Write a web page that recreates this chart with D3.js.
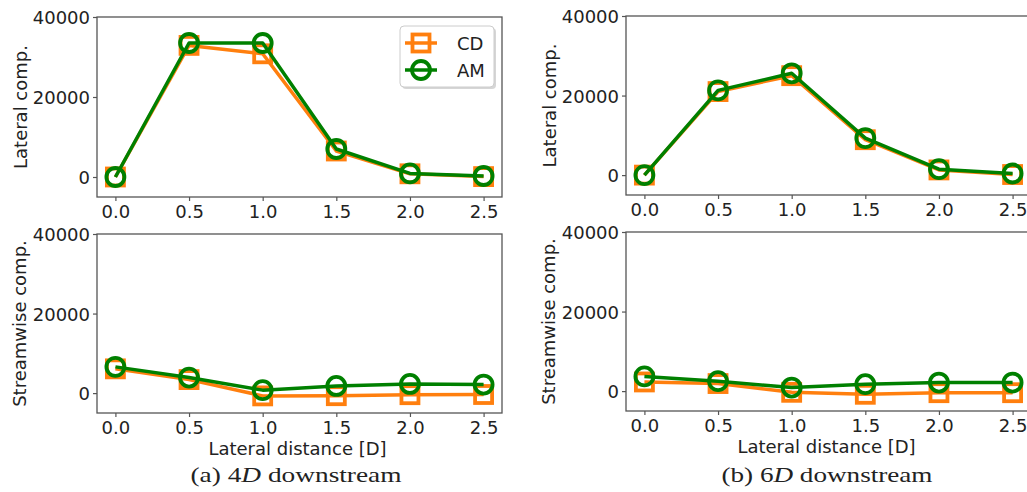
<!DOCTYPE html>
<html>
<head>
<meta charset="utf-8">
<script src="https://cdn.jsdelivr.net/npm/d3@7"></script>
<style>
  body { margin: 0; background: #fff; }
  svg { display: block; }
  .tick text { font-family: "DejaVu Sans", sans-serif; fill: #222; }
</style>
</head>
<body>
<div id="chart"></div>
<script>
// Figure size
const width = 1027;
const height = 492;

// Data (lateral distance in D)
const xValues = [0.0, 0.5, 1.0, 1.5, 2.0, 2.5];
const xTicks = [0.0, 0.5, 1.0, 1.5, 2.0, 2.5];
const yTicks = [0, 20000, 40000];
const seriesNames = ["CD", "AM"];

// 4D downstream
const cdLateral4D = [0, 32900, 30800, 6500, 800, 100];
const amLateral4D = [0, 33500, 33500, 7000, 900, 250];
const cdStream4D = [6100, 3400, -700, -650, -400, -350];
const amStream4D = [6600, 3900, 750, 1800, 2300, 2150];

// 6D downstream
const cdLateral6D = [0, 21000, 25000, 8900, 1300, 150];
const amLateral6D = [0, 21300, 25600, 9300, 1500, 400];
const cdStream6D = [2300, 1900, -300, -800, -400, -400];
const amStream6D = [3700, 2500, 900, 1750, 2150, 2150];

// caption pieces: before, italic part, after
const captions = ["(a) 4", "D", " downstream", "(b) 6", "D", " downstream"];

const colors = {CD: "#ff7f0e", AM: "#008000"};

// panel boxes (pixels)
const panels = [
  {left: 97, top: 17, w: 405, h: 180, cd: cdLateral4D, am: amLateral4D, ylabel: "Lateral comp.", labX: 20, legend: true},
  {left: 626, top: 16, w: 405, h: 179, cd: cdLateral6D, am: amLateral6D, ylabel: "Lateral comp.", labX: 549},
  {left: 97, top: 234, w: 405, h: 179, cd: cdStream4D, am: amStream4D, ylabel: "Streamwise comp.", labX: 19, xlabel: true},
  {left: 626, top: 232, w: 405, h: 179, cd: cdStream6D, am: amStream6D, ylabel: "Streamwise comp.", labX: 548, xlabel: true}
];

const svg = d3.select("#chart")
  .append("svg")
  .attr("width", width)
  .attr("height", height);

const frameColor = "#555";

function drawSeries(g, x, y, vals, name) {
  const line = d3.line().x((d, i) => x(xValues[i])).y(d => y(d));
  g.append("path")
    .datum(vals)
    .attr("d", line)
    .attr("fill", "none")
    .attr("stroke", colors[name])
    .attr("stroke-width", 3.5)
    .attr("stroke-linejoin", "round");
  if (name === "CD") {
    g.selectAll(".sq")
      .data(vals)
      .enter()
      .append("rect")
      .attr("x", (d, i) => x(xValues[i]) - 8.5)
      .attr("y", d => y(d) - 8.5)
      .attr("width", 17)
      .attr("height", 17)
      .attr("fill", "none")
      .attr("stroke", colors.CD)
      .attr("stroke-width", 3.8);
  } else {
    g.selectAll(".ci")
      .data(vals)
      .enter()
      .append("circle")
      .attr("cx", (d, i) => x(xValues[i]))
      .attr("cy", d => y(d))
      .attr("r", 9)
      .attr("fill", "none")
      .attr("stroke", colors.AM)
      .attr("stroke-width", 3.8);
  }
}

panels.forEach(p => {
  const x = d3.scaleLinear().domain([-0.125, 2.625]).range([p.left, p.left + p.w]);
  const y = d3.scaleLinear().domain([-5000, 40000]).range([p.top + p.h, p.top]);

  const gx = svg.append("g")
    .attr("transform", `translate(0,${p.top + p.h})`)
    .call(d3.axisBottom(x).tickValues(xTicks).tickFormat(d3.format(".1f")).tickSizeOuter(0).tickSize(4).tickPadding(4))
    .attr("font-size", "18px");
  gx.select(".domain").remove();
  gx.selectAll(".tick line").attr("stroke", frameColor).attr("stroke-width", 1.2);

  const gy = svg.append("g")
    .attr("transform", `translate(${p.left},0)`)
    .call(d3.axisLeft(y).tickValues(yTicks).tickFormat(d3.format("d")).tickSizeOuter(0).tickSize(4).tickPadding(3))
    .attr("font-size", "18px");
  gy.select(".domain").remove();
  gy.selectAll(".tick line").attr("stroke", frameColor).attr("stroke-width", 1.2);
  gy.selectAll(".tick text").attr("dy", "0.36em");

  const g = svg.append("g");
  drawSeries(g, x, y, p.cd, "CD");
  drawSeries(g, x, y, p.am, "AM");

  // frame
  svg.append("rect")
    .attr("x", p.left)
    .attr("y", p.top)
    .attr("width", p.w)
    .attr("height", p.h)
    .attr("fill", "none")
    .attr("stroke", frameColor)
    .attr("stroke-width", 1.3);

  svg.append("text")
    .attr("transform", `translate(${p.labX},${p.top + p.h / 2}) rotate(-90)`)
    .attr("text-anchor", "middle")
    .attr("dominant-baseline", "central")
    .attr("font-family", "DejaVu Sans, sans-serif")
    .attr("font-size", "18px")
    .attr("fill", "#222")
    .text(p.ylabel);

  if (p.xlabel) {
    svg.append("text")
      .attr("x", p.left + p.w / 2 - 2)
      .attr("y", p.top + p.h + 42)
      .attr("text-anchor", "middle")
      .attr("font-family", "DejaVu Sans, sans-serif")
      .attr("font-size", "18px")
      .attr("fill", "#222")
      .text("Lateral distance [D]");
  }

  if (p.legend) {
    const lg = svg.append("g").attr("transform", "translate(400,26)");
    lg.append("rect")
      .attr("x", 2).attr("y", 2)
      .attr("width", 94).attr("height", 61)
      .attr("rx", 4)
      .attr("fill", "#bbb")
      .attr("opacity", 0.6);
    lg.append("rect")
      .attr("width", 94).attr("height", 61)
      .attr("rx", 4)
      .attr("fill", "#fff")
      .attr("stroke", "#ccc")
      .attr("stroke-width", 1);
    seriesNames.forEach((name, i) => {
      const cy = 17 + i * 27;
      lg.append("line")
        .attr("x1", 5).attr("x2", 37)
        .attr("y1", cy).attr("y2", cy)
        .attr("stroke", colors[name])
        .attr("stroke-width", 3.5);
      if (name === "CD") {
        lg.append("rect")
          .attr("x", 21 - 8.5).attr("y", cy - 8.5)
          .attr("width", 17).attr("height", 17)
          .attr("fill", "none")
          .attr("stroke", colors.CD)
          .attr("stroke-width", 3.8);
      } else {
        lg.append("circle")
          .attr("cx", 21).attr("cy", cy).attr("r", 9)
          .attr("fill", "none")
          .attr("stroke", colors.AM)
          .attr("stroke-width", 3.8);
      }
      lg.append("text")
        .attr("x", 57).attr("y", cy)
        .attr("dominant-baseline", "central")
        .attr("font-family", "DejaVu Sans, sans-serif")
        .attr("font-size", "18px")
        .attr("fill", "#222")
        .text(name);
    });
  }
});

// captions (serif, italic D)
[[296, 0], [827, 3]].forEach(([cx, k]) => {
  const t = svg.append("text")
    .attr("x", cx)
    .attr("y", 482)
    .attr("text-anchor", "middle")
    .attr("font-family", "Liberation Serif, serif")
    .attr("font-size", "22px")
    .attr("fill", "#222")
    .attr("textLength", 211)
    .attr("lengthAdjust", "spacingAndGlyphs");
  t.append("tspan").text(captions[k]);
  t.append("tspan").attr("font-style", "italic").text(captions[k + 1]);
  t.append("tspan").text(captions[k + 2]);
});
</script>
</body>
</html>
